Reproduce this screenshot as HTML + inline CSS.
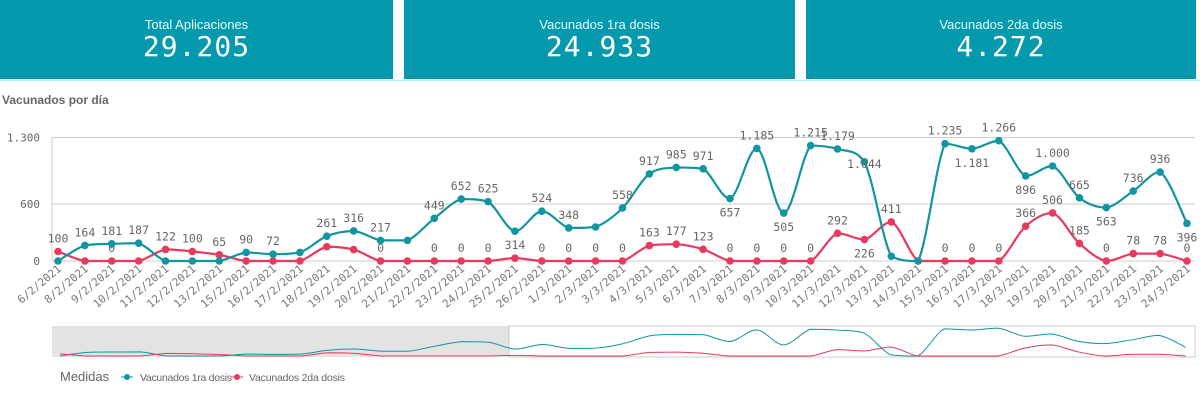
<!DOCTYPE html><html><head><meta charset="utf-8"><style>
body{margin:0;width:1200px;height:401px;background:#fff;overflow:hidden;font-family:"Liberation Sans",sans-serif;position:relative}
.k{position:absolute;top:0;height:79px;background:#0599ad;color:#fff;text-align:center}
.k .t{font-size:13px;margin-top:17px;color:#e8fbff}
.k .v{font-family:"DejaVu Sans Mono",monospace;font-size:28px;line-height:30px;letter-spacing:1px}
</style></head><body>
<div class="k" style="left:0;width:393px"><div class="t">Total Aplicaciones</div><div class="v">29.205</div></div>
<div class="k" style="left:404px;width:391px"><div class="t">Vacunados 1ra dosis</div><div class="v">24.933</div></div>
<div class="k" style="left:806px;width:390px"><div class="t">Vacunados 2da dosis</div><div class="v">4.272</div></div>
<div style="position:absolute;left:0;top:80px;width:1200px;height:1px;background:#b8eef3"></div>
<svg id="s" width="1200" height="401" style="position:absolute;left:0;top:0"></svg>
<script>
var d=["6/2","8/2","9/2","10/2","11/2","12/2","13/2","15/2","16/2","17/2","18/2","19/2","20/2","21/2","22/2","23/2","24/2","25/2","26/2"];
for(var i=1;i<=24;i++)d.push(i+"/3");
var a=[0,164,181,187,0,0,0,90,72,90,261,316,217,217,449,652,625,314,524,348,358,558,917,985,971,657,1185,505,1215,1179,1044,50,0,1235,1181,1266,896,1000,665,563,736,936,396];
var b=[100,0,0,0,122,100,65,0,0,0,150,120,0,0,0,0,0,30,0,0,0,0,163,177,123,0,0,0,0,292,226,411,0,0,0,0,366,506,185,0,78,78,0];
var la={1:-9,2:-9,3:-9,7:-9,8:-9,10:-9,11:-9,12:-9,14:-9,15:-9,16:-9,17:18,18:-9,19:-9,21:-9,22:-9,23:-9,24:-9,25:18,26:-9,27:18,28:-9,29:-9,30:6,33:-9,34:18,35:-9,36:18,37:-9,38:-9,39:18,40:-9,41:-9,42:18};
var lb={0:-9,2:-9,4:-9,5:-9,6:-9,12:-9,14:-9,15:-9,16:-9,18:-9,19:-9,20:-9,21:-9,22:-9,23:-9,24:-9,25:-9,26:-9,27:-9,28:-9,29:-9,30:18,31:-9,33:-9,34:-9,35:-9,36:-9,37:-9,38:-9,39:-9,40:-9,41:-9,42:-9};
var X=function(i){return 58+i*26.88},Y=function(v){return 261-v*0.095};
function path(v,X,Y){var p=v.map(function(y,i){return[X(i),Y(y)]});var s="M"+p[0];
function cl(y,a,b){var lo=Math.min(a,b),hi=Math.max(a,b);return Math.max(lo,Math.min(hi,y));}
for(var i=0;i<p.length-1;i++){var p0=p[i-1]||p[i],p1=p[i],p2=p[i+1],p3=p[i+2]||p2;
var c1y=cl(p1[1]+(p2[1]-p0[1])/6,p1[1],p2[1]),c2y=cl(p2[1]-(p3[1]-p1[1])/6,p1[1],p2[1]);
s+="C"+(p1[0]+(p2[0]-p0[0])/6)+","+c1y+" "+(p2[0]-(p3[0]-p1[0])/6)+","+c2y+" "+p2;}return s;}
var h="";
[[0,261],[600,204],[1300,137.5]].forEach(function(g){h+='<line x1="52" x2="1195" y1="'+g[1]+'" y2="'+g[1]+'" stroke="#ccc"/><text x="40" y="'+(g[1]+4)+'" text-anchor="end" font-size="11" fill="#666" font-family="DejaVu Sans Mono,monospace">'+(g[0]==1300?"1.300":g[0])+'</text>';});
h+='<line x1="52" x2="52" y1="137" y2="261" stroke="#ccc"/>';
function fmt(v){return v>=1000?Math.floor(v/1000)+"."+String(v%1000).padStart(3,"0"):""+v}
[[b,"#e8395e",lb],[a,"#11959f",la]].forEach(function(s){h+='<path d="'+path(s[0],X,Y)+'" fill="none" stroke="'+s[1]+'" stroke-width="2.2"/>';
s[0].forEach(function(v,i){h+='<circle cx="'+X(i)+'" cy="'+Y(v)+'" r="3.8" fill="'+s[1]+'"/>';
if(s[2][i]!==undefined)h+='<text x="'+X(i)+'" y="'+(Y(v)+s[2][i])+'" text-anchor="middle" font-size="11.5" fill="#666" font-family="DejaVu Sans Mono,monospace">'+fmt(v)+'</text>';});});
d.forEach(function(t,i){var x=X(i)+4,y=270;h+='<text transform="translate('+x+','+y+') rotate(-40)" text-anchor="end" font-size="11" fill="#777" font-family="DejaVu Sans Mono,monospace">'+t+'/2021</text>';});
h+='<text x="2" y="104" font-size="12" font-weight="bold" fill="#666">Vacunados por día</text>';
h+='<rect x="52" y="326" width="457" height="31" fill="#e3e3e3"/><rect x="509" y="326" width="686" height="31" fill="none" stroke="#ccc"/>';
var mx=function(i){return 60+i*26.8},my=function(v){return 356-v*0.022};
h+='<path d="'+path(a,mx,my)+'" fill="none" stroke="#11959f" stroke-width="1"/><path d="'+path(b,mx,my)+'" fill="none" stroke="#e8395e" stroke-width="1"/>';
h+='<text x="60" y="381" font-size="13" fill="#666">Medidas</text><circle cx="127" cy="377" r="3" fill="#11959f"/><line x1="121" x2="133" y1="377" y2="377" stroke="#11959f"/><text x="140" y="381" font-size="10.5" fill="#666" textLength="92">Vacunados 1ra dosis</text>';
h+='<circle cx="237" cy="377" r="3" fill="#e8395e"/><line x1="231" x2="243" y1="377" y2="377" stroke="#e8395e"/><text x="249" y="381" font-size="10.5" fill="#666" textLength="96">Vacunados 2da dosis</text>';
document.getElementById("s").innerHTML=h;
</script></body></html>
